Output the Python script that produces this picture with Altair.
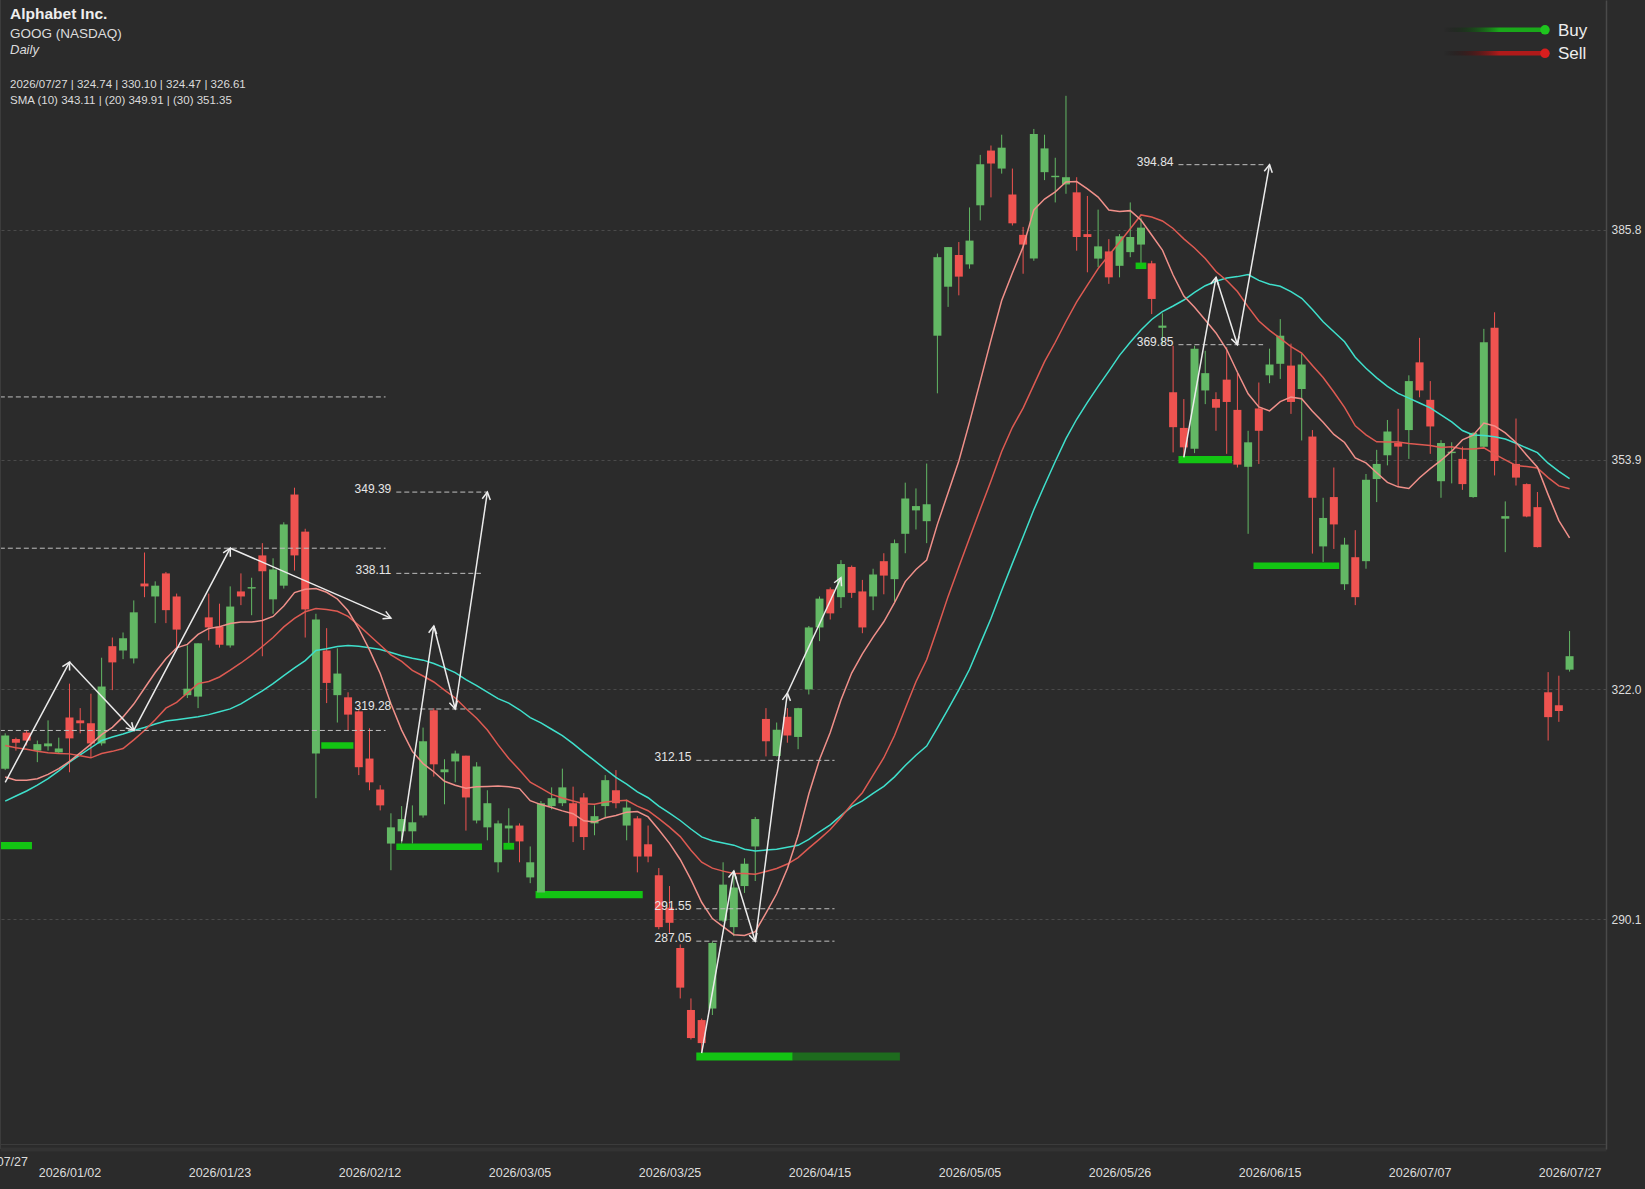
import math
import altair as alt
import pandas as pd

# ---------------- data ----------------
holidays = ["2025-12-25", "2026-01-01", "2026-01-19", "2026-02-16",
            "2026-04-03", "2026-05-25", "2026-06-19", "2026-07-03"]
dates = [d.strftime("%Y/%m/%d") for d in pd.bdate_range("2025-12-23", "2026-07-27")
         if d.strftime("%Y-%m-%d") not in holidays]

opens = [311.0, 315.1, 316.0, 313.5, 314.1, 313.25, 318.1, 317.7, 317.3, 314.5,
         328.0, 327.4, 326.3, 336.7, 334.9, 338.1, 334.9, 321.2, 321.0, 332.0,
         330.7, 328.1, 335.6, 336.0, 340.6, 334.5, 336.4, 349.05, 343.9, 313.1,
         327.4, 321.2, 320.9, 318.95, 312.4, 308.1, 300.6, 302.3, 302.3, 304.5,
         319.1, 310.5, 312.0, 312.8, 303.8, 302.85, 298.0, 302.7, 303.1, 295.9,
         293.8, 305.8, 306.2, 306.2, 307.0, 303.4, 305.8, 308.0, 303.1, 304.1,
         300.5, 296.2, 291.7, 286.1, 277.5, 276.1, 277.7, 289.9, 289.0, 294.7,
         300.2, 317.9, 312.75, 318.2, 315.4, 322.0, 330.6, 335.9, 334.8, 339.0,
         335.6, 334.9, 339.8, 337.3, 343.6, 346.85, 345.35, 371.1, 377.9, 382.3,
         381.0, 389.2, 396.8, 394.3, 390.7, 385.1, 381.8, 393.8, 393.1, 392.1,
         391.0, 385.2, 381.8, 382.8, 380.8, 382.7, 383.75, 381.15, 372.2, 363.25,
         358.3, 355.4, 363.5, 362.3, 365.0, 360.8, 352.9, 361.0, 365.6, 367.2,
         366.95, 363.7, 357.1, 341.85, 348.7, 336.6, 340.35, 339.8, 351.2, 354.5,
         356.2, 358.0, 367.4, 362.2, 350.9, 354.8, 354.0, 348.7, 355.7, 372.2,
         345.7, 353.3, 350.5, 347.3, 321.6, 319.8, 324.74]
highs = [315.9, 315.3, 316.3, 314.9, 317.7, 315.3, 322.8, 319.4, 321.4, 326.4,
         329.2, 329.9, 334.35, 341.0, 337.0, 338.3, 335.3, 328.1, 328.4, 335.3,
         333.9, 336.3, 338.1, 337.5, 342.3, 340.2, 345.2, 350.0, 344.3, 332.5,
         330.5, 327.7, 321.6, 319.1, 316.6, 308.7, 304.8, 305.8, 305.9, 316.7,
         319.4, 312.3, 313.5, 312.8, 311.9, 308.0, 303.8, 305.5, 303.4, 300.2,
         306.5, 308.4, 311.0, 308.5, 307.6, 305.9, 310.1, 310.8, 306.7, 304.4,
         303.1, 297.2, 294.7, 286.6, 279.1, 276.3, 287.0, 298.0, 296.6, 298.55,
         304.3, 319.4, 317.4, 319.4, 319.45, 330.8, 334.9, 336.15, 339.95, 339.2,
         337.2, 338.75, 340.9, 342.8, 350.7, 349.9, 353.35, 382.5, 383.4, 384.1,
         388.9, 396.2, 397.5, 399.0, 394.3, 386.2, 399.8, 399.0, 395.8, 404.4,
         393.1, 390.5, 388.6, 384.5, 385.2, 389.6, 387.5, 381.5, 374.2, 369.7,
         362.3, 369.7, 369.0, 363.25, 369.5, 365.9, 357.9, 364.6, 369.3, 373.4,
         370.0, 368.6, 358.0, 348.6, 352.8, 343.05, 344.1, 351.9, 355.25, 359.4,
         360.95, 365.6, 370.8, 364.8, 356.6, 356.3, 355.7, 357.7, 372.05, 374.35,
         348.1, 359.6, 350.6, 349.4, 324.4, 323.9, 330.10]
lows = [310.8, 313.5, 314.2, 311.9, 313.5, 313.1, 310.5, 315.9, 312.6, 314.2,
        321.9, 326.2, 325.6, 334.8, 331.2, 331.2, 327.8, 320.8, 319.4, 328.8,
        327.8, 327.8, 333.7, 332.3, 326.6, 332.5, 336.0, 338.5, 329.2, 306.9,
        320.1, 317.4, 316.3, 310.1, 308.0, 305.2, 296.9, 300.6, 300.6, 304.2,
        309.9, 306.05, 309.1, 302.4, 303.4, 301.05, 296.6, 300.1, 298.0, 295.1,
        293.8, 305.35, 305.8, 300.8, 299.7, 301.75, 304.2, 305.5, 301.05, 296.6,
        298.0, 288.7, 288.2, 279.1, 273.4, 271.5, 276.8, 289.7, 287.75, 293.75,
        295.4, 312.7, 312.7, 314.6, 313.7, 321.3, 328.7, 331.7, 333.3, 334.7,
        329.8, 333.0, 335.2, 334.2, 340.9, 344.2, 342.3, 363.1, 375.1, 376.7,
        380.4, 387.1, 390.3, 393.6, 386.4, 379.7, 381.5, 392.7, 389.6, 390.8,
        382.9, 379.9, 380.6, 378.3, 379.2, 382.0, 381.15, 374.1, 369.95, 354.9,
        354.3, 354.8, 361.6, 357.9, 354.7, 352.8, 343.6, 353.3, 364.5, 365.1,
        360.25, 356.55, 340.85, 339.7, 341.5, 335.8, 333.7, 338.75, 348.0, 353.1,
        350.1, 354.0, 362.55, 354.7, 348.6, 350.6, 349.7, 348.6, 355.6, 351.7,
        341.05, 350.3, 345.9, 341.7, 314.9, 317.5, 324.47]
closes = [315.6, 314.6, 314.9, 314.4, 314.5, 313.8, 315.2, 317.3, 314.5, 322.4,
          325.75, 329.1, 332.7, 336.3, 336.4, 333.0, 330.3, 322.1, 328.4, 330.6,
          328.2, 333.5, 334.9, 336.2, 338.4, 338.65, 344.9, 340.6, 333.1, 331.7,
          322.9, 324.2, 318.5, 311.2, 309.1, 305.9, 302.85, 304.0, 303.55, 314.8,
          311.6, 310.9, 313.1, 307.0, 311.3, 306.2, 303.4, 303.1, 300.9, 298.0,
          306.2, 306.9, 308.4, 303.0, 301.5, 304.4, 309.4, 306.2, 305.6, 298.8,
          298.8, 289.0, 289.6, 280.6, 273.6, 272.9, 286.8, 294.9, 294.5, 297.8,
          304.0, 314.8, 316.4, 315.6, 319.4, 330.6, 334.6, 332.55, 339.4, 335.4,
          330.6, 337.95, 337.8, 342.3, 348.5, 347.45, 347.7, 382.0, 383.4, 379.3,
          384.3, 394.9, 395.0, 397.2, 386.7, 383.75, 399.1, 397.1, 393.3, 393.1,
          384.8, 384.8, 383.5, 379.2, 384.9, 384.8, 386.1, 376.2, 372.5, 358.4,
          355.6, 369.3, 365.9, 361.1, 361.9, 353.2, 356.3, 357.9, 367.1, 371.1,
          361.9, 367.1, 348.6, 345.8, 344.9, 342.1, 334.8, 351.1, 353.3, 357.8,
          355.7, 364.8, 363.5, 358.5, 356.2, 355.0, 350.5, 357.6, 370.2, 353.7,
          346.05, 351.4, 346.0, 341.75, 318.15, 319.0, 326.61]

# moving averages where their look-back starts before the visible window
sma10_head = [309.85, 309.4, 309.4, 309.6, 310.2, 311.0, 312.0, 313.2, 314.4]
sma20_head = [314.2, 313.9, 313.7, 313.4, 313.2, 313.1, 313.05, 312.8, 312.5, 313.1,
              313.4, 313.8, 315.0, 316.3, 317.8, 319.4, 320.2, 321.5, 322.8]
sma30_head = [306.5, 307.2, 307.9, 308.7, 309.6, 310.7, 311.9, 312.9, 313.9, 314.9,
              315.4, 315.8, 316.3, 316.7, 317.2, 317.6, 317.8, 318.0, 318.2, 318.5,
              318.9, 319.3, 320.0, 320.9, 321.8, 322.8, 323.9, 325.0, 326.0]

# zigzag pivots (bar index, price)
zig_idx = [[0, 6, 12, 21, 36], [37, 40, 42, 45], [65, 68, 70, 73, 78], [110, 113, 115, 118]]
zig_val = [[309.1, 325.8, 316.3, 341.6, 331.9], [300.9, 330.8, 319.28, 349.39],
           [271.5, 296.8, 287.05, 321.5, 337.5], [354.2, 379.2, 369.85, 394.84]]

# dashed price levels: price, start index, end index, label
lvl_price = [362.6, 341.6, 316.3, 349.39, 338.11, 319.28, 312.15, 291.55, 287.05, 394.84, 369.85]
lvl_start = [-0.5, -0.5, -0.5, 36.5, 36.5, 36.5, 64.5, 64.5, 64.5, 109.5, 109.5]
lvl_end = [35.5, 35.5, 35.5, 45.0, 44.4, 44.4, 77.4, 77.4, 77.4, 117.7, 117.4]
lvl_label = ["", "", "", "349.39", "338.11", "319.28", "312.15", "291.55", "287.05", "394.84", "369.85"]

# green zone bars: start idx, end idx, top price, bottom price, shade
zone_start = [-0.5, 29.5, 36.5, 46.5, 49.5, 64.5, 73.5, 105.5, 109.5, 116.5]
zone_end = [2.5, 32.5, 44.5, 47.5, 59.5, 73.5, 83.5, 106.5, 114.5, 124.5]
zone_top = [300.8, 314.65, 300.6, 300.7, 294.0, 271.6, 271.6, 381.25, 354.4, 339.6]
zone_bot = [299.8, 313.75, 299.7, 299.75, 293.0, 270.5, 270.5, 380.35, 353.4, 338.7]
zone_col = ["#13c413", "#13c413", "#13c413", "#13c413", "#13c413", "#13c413", "#1e6b1e",
            "#13c413", "#13c413", "#13c413"]

tick_labels = ["2026/01/02", "2026/01/23", "2026/02/12", "2026/03/05", "2026/03/25", "2026/04/15",
               "2026/05/05", "2026/05/26", "2026/06/15", "2026/07/07", "2026/07/27"]
y_ticks = [290.1, 322.0, 353.9, 385.8]

# ---------------- build tables ----------------
UP, DOWN = "#63b865", "#ef5350"
n = len(closes)
df = pd.DataFrame({"idx": list(range(n)), "date": dates[:n], "open": opens, "high": highs,
                   "low": lows, "close": closes})
df["col"] = [UP if c >= o else DOWN for o, c in zip(opens, closes)]
cs = pd.Series(closes)
for w, head in ((10, sma10_head), (20, sma20_head), (30, sma30_head)):
    s = cs.rolling(w).mean().tolist()
    s[:len(head)] = head
    df[f"sma{w}"] = s

W, H = 1606, 1149
XD = [-0.485, 149.4]
YD = [258.2, 417.7]
pxx = W / (XD[1] - XD[0])
pxy = H / (YD[1] - YD[0])

seg_rows = []
for gi, gv in zip(zig_idx, zig_val):
    for k in range(len(gi) - 1):
        dx = (gi[k + 1] - gi[k]) * pxx
        dy = (gv[k + 1] - gv[k]) * pxy
        ang = math.degrees(math.atan2(dx, dy)) % 360
        seg_rows.append({"i0": gi[k], "v0": gv[k], "i1": gi[k + 1], "v1": gv[k + 1], "ang": ang})
segs = pd.DataFrame(seg_rows)

lv = pd.DataFrame({"p": lvl_price, "s": lvl_start, "e": lvl_end, "t": lvl_label})
zn = pd.DataFrame({"s": zone_start, "e": zone_end, "t": zone_top, "b": zone_bot, "c": zone_col})

tick_idx = [dates.index(t) for t in tick_labels]
label_expr = ("[" + ",".join(f"'{t}'" for t in tick_labels) + "][indexof(["
              + ",".join(str(i) for i in tick_idx) + "], datum.value)]")

FONT = "Liberation Sans"
xs = alt.Scale(domain=XD, nice=False, zero=False, padding=0)
ys = alt.Scale(domain=YD, nice=False, zero=False, padding=0)

x_axis = alt.Axis(values=tick_idx, labelExpr=label_expr, grid=False, ticks=False, labelPadding=17,
                  domain=True, domainColor="#333333", domainWidth=4, labelColor="#dddddd",
                  labelFont=FONT, labelFontSize=12.5, title=None, labelFlush=False, labelOverlap=False)
y_axis = alt.Axis(orient="right", values=y_ticks, format=".1f", grid=True, gridDash=[3, 3],
                  gridColor="#4a4a4a", ticks=False, labelPadding=5, domain=True, domainColor="#4a4a4a",
                  domainWidth=1.5, labelColor="#dddddd", labelFont=FONT, labelFontSize=12, title=None)


def X(field):
    return alt.X(field, scale=xs, axis=x_axis)


def Y(field):
    return alt.Y(field, scale=ys, axis=y_axis)


base = alt.Chart(df)

wicks = base.mark_rule(strokeWidth=1).encode(
    x=X("idx:Q"), y=Y("low:Q"), y2="high:Q",
    color=alt.Color("col:N", scale=None),
)
bodies = base.mark_bar(size=8).encode(
    x=X("idx:Q"), y=Y("open:Q"), y2="close:Q",
    color=alt.Color("col:N", scale=None),
)

zones = alt.Chart(zn).mark_rect(clip=True).encode(
    x=X("s:Q"), x2="e:Q", y=Y("t:Q"), y2="b:Q",
    color=alt.Color("c:N", scale=None),
)


def sma_line(col, color):
    return base.mark_line(strokeWidth=1.5, color=color).encode(x=X("idx:Q"), y=Y(f"{col}:Q"))


sma30 = sma_line("sma30", "#3fe0cc")
sma20 = sma_line("sma20", "#de5a52")
sma10 = sma_line("sma10", "#f0908a")

levels = alt.Chart(lv).mark_rule(strokeDash=[5, 3], color="#bfbfbf", strokeWidth=1, clip=True).encode(
    x=X("s:Q"), x2="e:Q", y=Y("p:Q"),
)
level_text = alt.Chart(lv).transform_filter("datum.t != ''").mark_text(
    align="right", baseline="alphabetic", dx=-5, dy=1, font=FONT, fontSize=12, color="#e6e6e6"
).encode(x=X("s:Q"), y=Y("p:Q"), text="t:N")

arrows = alt.Chart(segs).mark_rule(color="#ececec", strokeWidth=1.5).encode(
    x=X("i0:Q"), x2="i1:Q", y=Y("v0:Q"), y2="v1:Q",
)
heads = alt.Chart(segs).mark_point(
    shape="M -0.55 1 L 0 0 L 0.55 1", filled=False, size=220, strokeWidth=1.5,
    color="#ececec", opacity=1
).encode(
    x=X("i1:Q"), y=Y("v1:Q"),
    angle=alt.Angle("ang:Q", scale=None),
)

one = pd.DataFrame({"a": [0]})


def txt(t, x, y, size, weight="normal", style="normal", color="#dcdcdc", align="left",
        baseline="alphabetic"):
    return alt.Chart(one).mark_text(
        text=t, font=FONT, fontSize=size, fontWeight=weight, fontStyle=style, color=color,
        align=align, baseline=baseline
    ).encode(x=alt.value(x), y=alt.value(y))


def frame_rule(x, x2, y, y2, color, width):
    return alt.Chart(one).mark_rule(color=color, strokeWidth=width).encode(
        x=alt.value(x), x2=alt.value(x2), y=alt.value(y), y2=alt.value(y2))


frame = [
    frame_rule(0.5, 0.5, 0, 1149, "#3c3c3c", 1),
    frame_rule(0, 1606, 1144.5, 1144.5, "#3c3c3c", 1),
]

header = [
    txt("Alphabet Inc.", 10, 19, 15.5, weight="bold", color="#eeeeee"),
    txt("GOOG (NASDAQ)", 10, 37.5, 13.5),
    txt("Daily", 10, 54, 13, style="italic"),
    txt("2026/07/27 | 324.74 | 330.10 | 324.47 | 326.61", 10, 88, 11.5),
    txt("SMA (10) 343.11 | (20) 349.91 | (30) 351.35", 10, 103.5, 11.5),
    txt("2026/07/27", 28, 1162, 12.5, color="#dddddd", align="right", baseline="middle"),
]


def legend_row(label, y, solid, dot):
    grad = alt.Gradient(gradient="linear", x1=0, x2=1, y1=0, y2=0,
                        stops=[alt.GradientStop(color="rgba(0,0,0,0)", offset=0),
                               alt.GradientStop(color=solid, offset=0.55),
                               alt.GradientStop(color=solid, offset=1)])
    bar = alt.Chart(one).mark_rect(color=grad).encode(
        x=alt.value(1443), x2=alt.value(1545), y=alt.value(y - 2.2), y2=alt.value(y + 2.2))
    pt = alt.Chart(one).mark_point(filled=True, shape="circle", size=90, color=dot, opacity=1).encode(
        x=alt.value(1545), y=alt.value(y))
    return [bar, pt, txt(label, 1558, y + 6, 17, color="#eeeeee")]


legend = legend_row("Buy", 29.8, "#1aa81a", "#1ec41e") + legend_row("Sell", 53.3, "#b01a1a", "#d81e1e")

chart = alt.layer(
    wicks, zones, bodies, sma30, sma20, sma10, levels, level_text, arrows, heads,
    *frame, *header, *legend
).properties(
    width=W, height=H, background="#2b2b2b",
    padding={"left": 0, "top": 0, "right": 39, "bottom": 40},
    autosize=alt.AutoSizeParams(type="none"),
).configure_view(stroke=None)

chart.save("out.html", embed_options={"renderer": "svg", "actions": False})
